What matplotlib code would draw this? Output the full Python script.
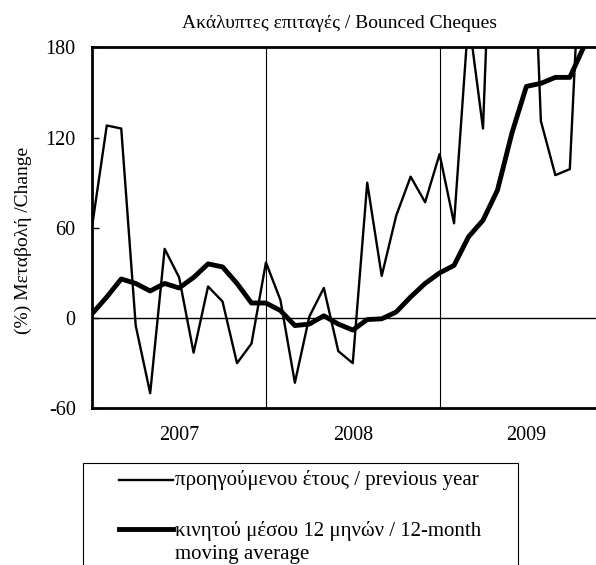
import numpy as np
import matplotlib
matplotlib.use("Agg")
import matplotlib.pyplot as plt
from matplotlib.lines import Line2D
from matplotlib.patches import Rectangle

plt.rcParams['font.family'] = ['Liberation Serif', 'DejaVu Serif']

# monthly values from Jan 2007 (% change)
prev_year = [62, 128, 126, -5, -50, 46, 27, -23, 21, 11, -30, -17,
             37, 12, -43, 1, 20, -22, -30, 90, 28, 68, 94, 77,
             109, 63, 200, 126, 380, 430, 380, 131, 95, 99, 300]
moving_avg = [3, 14, 26, 23, 18, 23, 20, 27, 36, 34, 23, 10,
              10, 5, -5, -4, 1.5, -4, -8, -1, -0.5, 4, 14, 23,
              30, 35, 54, 65, 85, 123, 154, 156, 160, 160, 181]
years = ['2007', '2008', '2009']
yticks = [-60, 0, 60, 120, 180]

title = 'Ακάλυπτες επιταγές / Bounced Cheques'
ylabel = '(%) Μεταβολή /Change'
label_prev = 'προηγούμενου έτους / previous year'
label_ma = 'κινητού μέσου 12 μηνών / 12-month'
label_ma2 = 'moving average'

W, H = 596, 565
fig = plt.figure(figsize=(W / 100, H / 100), dpi=100)

def fx(px):
    return px / W

def fy(py):
    return (H - py) / H

# axes run past the right edge like the cropped original
ax = fig.add_axes([fx(92.3), fy(408.3), fx(36 * 14.47), fy(47.3) - fy(408.3)])
x = np.arange(len(prev_year))

ax.axhline(0, color='black', lw=1.0, zorder=1)
for v in [12, 24]:
    ax.axvline(v, color='black', lw=0.8, zorder=1)

ax.plot(x, prev_year, color='black', lw=1.7, zorder=3)
ax.plot(x, moving_avg, color='black', lw=3.5, zorder=4)

ax.set_xlim(0, 36)
ax.set_ylim(-60, 180)
ax.set_yticks(yticks)
ax.set_yticklabels([str(t) for t in yticks])
ax.tick_params(axis='y', direction='in', length=5, width=1, labelsize=14.5, pad=12)

ax.set_xticks([0, 12, 24, 36])
ax.set_xticklabels([])
ax.set_xticks([6, 18, 30], minor=True)
ax.set_xticklabels(years, minor=True)
ax.tick_params(axis='x', which='both', length=0, labelsize=14.5, pad=13)

for s in ['left', 'bottom', 'top']:
    ax.spines[s].set_linewidth(2)
ax.spines['right'].set_visible(False)

fig.text(fx(339), fy(23.3), title, ha='center', va='center', fontsize=14)
fig.text(fx(23.3), fy(240), ylabel, ha='center', va='center', rotation=90, fontsize=14)

# legend box, cut off by the bottom edge
fig.add_artist(Rectangle((fx(83.3), fy(600)), fx(518.3) - fx(83.3), fy(462.7) - fy(600),
                         transform=fig.transFigure, fill=False, lw=0.8, ec='black', clip_on=False))
fig.add_artist(Line2D([fx(119.3), fx(173.3)], [fy(480), fy(480)],
                      transform=fig.transFigure, color='black', lw=1.7))
fig.add_artist(Line2D([fx(119.3), fx(173.3)], [fy(529), fy(529)],
                      transform=fig.transFigure, color='black', lw=3.5))
fig.text(fx(175), fy(480), label_prev, ha='left', va='center', fontsize=15)
fig.text(fx(175), fy(531), label_ma, ha='left', va='center', fontsize=15)
fig.text(fx(175), fy(555), label_ma2, ha='left', va='center', fontsize=15)

plt.savefig('out.png', dpi=100)
